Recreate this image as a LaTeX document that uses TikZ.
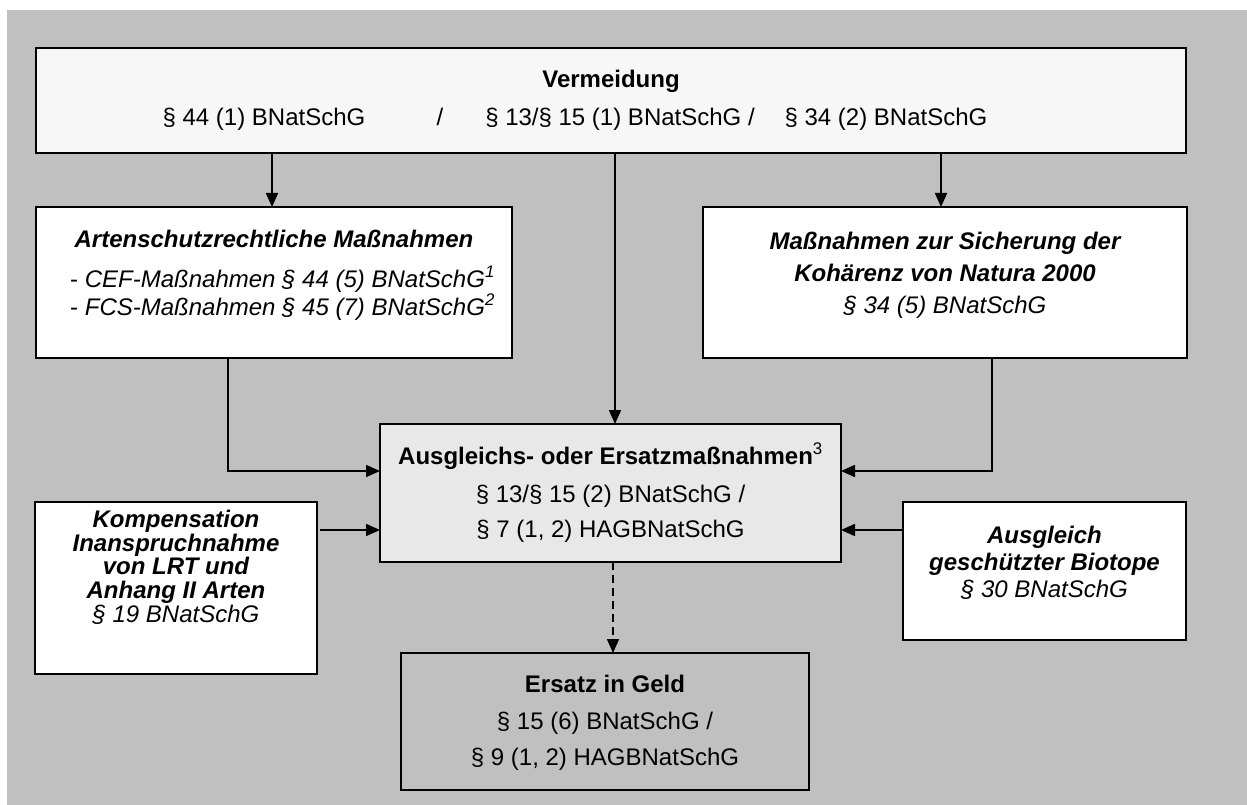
\documentclass[tikz,border=0pt]{standalone}
\usepackage{fontspec}
\setmainfont{Liberation Sans}
\usetikzlibrary{arrows.meta}
\definecolor{bg}{HTML}{C0C0C0}
\definecolor{topfill}{HTML}{F7F7F7}
\definecolor{midfill}{HTML}{E8E8E8}
\begin{document}
\begin{tikzpicture}[x=1pt,y=-1pt,
  box/.style={draw=black,line width=2.2pt,inner sep=0pt,outer sep=0pt},
  txt/.style={anchor=base,inner sep=0pt,font=\fontsize{24}{24}\selectfont},
  bi/.style={txt,font=\fontsize{24}{24}\selectfont\bfseries\itshape},
  it/.style={txt,font=\fontsize{24}{24}\selectfont\itshape},
  bf/.style={txt,font=\fontsize{24}{24}\selectfont\bfseries},
  arr/.style={line width=1.6pt,-{Triangle[length=14pt,width=12pt]}},
  darr/.style={arr,dash pattern=on 8pt off 5pt}]
\useasboundingbox (0,0) rectangle (1247,805);
\fill[white] (0,0) rectangle (1247,805);
\fill[bg] (7,10) rectangle (1247,805);

% boxes
\node[box,fill=topfill,minimum width=1150pt,minimum height=105pt] (top) at (611,100.5) {};
\node[box,fill=white,minimum width=476pt,minimum height=151pt] (lbox) at (274,282.5) {};
\node[box,fill=white,minimum width=484pt,minimum height=151pt] (rbox) at (945,282.5) {};
\node[box,fill=midfill,minimum width=461pt,minimum height=138pt] (cbox) at (610.5,493) {};
\node[box,fill=white,minimum width=282pt,minimum height=172pt] (blbox) at (176,588) {};
\node[box,fill=white,minimum width=283pt,minimum height=138pt] (brbox) at (1044.5,571) {};
\node[box,fill=bg,minimum width=408pt,minimum height=137pt] (bbox) at (605,721.5) {};

% top texts
\node[bf] (t1) at (611,88) {Vermeidung};
\node[txt] (t2) at (264,126) {§ 44 (1) BNatSchG};
\node[txt] (t3) at (440,126) {/};
\node[txt] (t4) at (620,126) {§ 13/§ 15 (1) BNatSchG /};
\node[txt] (t5) at (886,126) {§ 34 (2) BNatSchG};

% left box
\node[bi] (l1) at (274,247) {Artenschutzrechtliche Maßnahmen};
\node[txt,anchor=base west] (l2) at (70,287) {- \itshape CEF-Maßnahmen § 44 (5) BNatSchG\textsuperscript{1}};
\node[txt,anchor=base west] (l3) at (70,315) {- \itshape FCS-Maßnahmen § 45 (7) BNatSchG\textsuperscript{2}};

% right box
\node[bi] (r1) at (945,249) {Maßnahmen zur Sicherung der};
\node[bi] (r2) at (945,281) {Kohärenz von Natura 2000};
\node[it] (r3) at (945,313) {§ 34 (5) BNatSchG};

% center box
\node[bf] (c1) at (610.5,464) {Ausgleichs- oder Ersatzmaßnahmen\textsuperscript{\normalfont 3}};
\node[txt] (c2) at (610.5,502) {§ 13/§ 15 (2) BNatSchG /};
\node[txt] (c3) at (610.5,537) {§ 7 (1, 2) HAGBNatSchG};

% bottom-left box
\node[bi] (bl1) at (176,527) {Kompensation};
\node[bi] (bl2) at (176,551) {Inanspruchnahme};
\node[bi] (bl3) at (176,574) {von LRT und};
\node[bi] (bl4) at (176,598) {Anhang II Arten};
\node[it] (bl5) at (176,622) {§ 19 BNatSchG};

% bottom-right box
\node[bi] (br1) at (1044.5,543) {Ausgleich};
\node[bi] (br2) at (1044.5,570) {geschützter Biotope};
\node[it] (br3) at (1044.5,597) {§ 30 BNatSchG};

% bottom box
\node[bf] (b1) at (605,692) {Ersatz in Geld};
\node[txt] (b2) at (605,729) {§ 15 (6) BNatSchG /};
\node[txt] (b3) at (605,765) {§ 9 (1, 2) HAGBNatSchG};

% connector guides
\coordinate (xa) at (272,0);
\coordinate (xb) at (615,0);
\coordinate (xc) at (941,0);
\coordinate (xd) at (228,0);
\coordinate (xe) at (992,0);
\coordinate (xf) at (613,0);
\coordinate (ya) at (0,471);
\coordinate (yb) at (0,530);

\draw[arr] (top.south -| xa) -- (lbox.north -| xa);
\draw[arr] (top.south -| xb) -- (cbox.north -| xb);
\draw[arr] (top.south -| xc) -- (rbox.north -| xc);
\draw[arr] (lbox.south -| xd) -- (xd |- ya) -- (cbox.west |- ya);
\draw[arr] (rbox.south -| xe) -- (xe |- ya) -- (cbox.east |- ya);
\draw[arr] (blbox.east |- yb) ++(3,0) -- (cbox.west |- yb);
\draw[arr] (brbox.west |- yb) -- (cbox.east |- yb);
\draw[darr] (cbox.south -| xf) -- (bbox.north -| xf);
\end{tikzpicture}
\end{document}
